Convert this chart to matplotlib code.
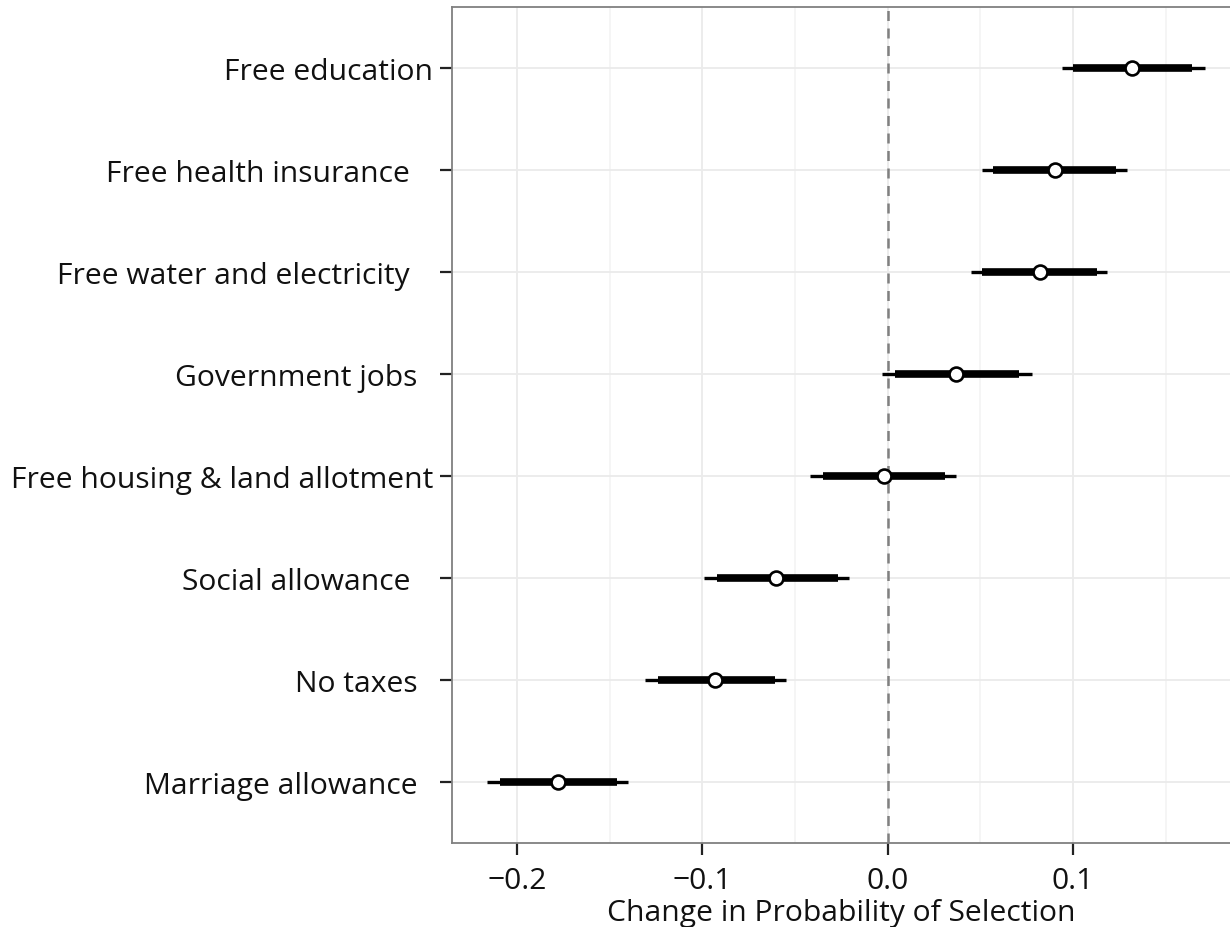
import numpy as np
import matplotlib.pyplot as plt
from matplotlib.ticker import MultipleLocator

# data, top row first
labels = ['Free education', 'Free health insurance   ', 'Free water and electricity   ',
          'Government jobs  ', 'Free housing & land allotment', 'Social allowance   ',
          'No taxes  ', 'Marriage allowance  ']
estimate = [0.132, 0.090, 0.082, 0.037, -0.002, -0.060, -0.093, -0.178]
lo95 = [0.094, 0.051, 0.045, -0.003, -0.042, -0.099, -0.131, -0.216]
hi95 = [0.171, 0.129, 0.118, 0.078, 0.037, -0.021, -0.055, -0.140]
lo90 = [0.100, 0.057, 0.051, 0.004, -0.035, -0.092, -0.124, -0.209]
hi90 = [0.164, 0.123, 0.113, 0.071, 0.031, -0.027, -0.061, -0.146]

plt.rcParams['font.family'] = ['Open Sans', 'DejaVu Sans']

fig = plt.figure(figsize=(12.3, 9.28), dpi=100)
ax = fig.add_axes([0.3675, 0.0905, 0.6325, 0.9009])

ypos = np.arange(len(labels))[::-1] + 1

ax.axvline(0, color='#808080', lw=1.8, ls=(0, (4, 3)), zorder=1)
ax.hlines(ypos, lo95, hi95, color='black', lw=2.4, zorder=2)
ax.hlines(ypos, lo90, hi90, color='black', lw=5.5, zorder=3)
ax.plot(estimate, ypos, 'o', ms=10, mfc='white', mec='black', mew=1.9, zorder=4)

ax.set_xlim(-0.235, 0.1846)
ax.set_ylim(0.4, 8.6)
ax.set_yticks(ypos)
ax.set_yticklabels(labels)
ax.xaxis.set_minor_locator(MultipleLocator(0.05))
ticks = [-0.2, -0.1, 0.0, 0.1]
ax.set_xticks(ticks)
ax.set_xticklabels(['\u22120.2', '\u22120.1', '0.0', '0.1'])

ax.grid(which='major', color='#ebebeb', lw=1.3, zorder=0)
ax.grid(which='minor', axis='x', color='#f5f5f5', lw=1.3, zorder=0)
ax.set_axisbelow(True)

ax.tick_params(axis='both', which='major', length=8.5, width=1.6, color='#222222',
               labelsize=21.6, labelcolor='#111111')
ax.tick_params(axis='y', pad=5)
ax.tick_params(axis='x', pad=8)
ax.tick_params(axis='x', which='minor', length=0)
for s in ['left', 'bottom', 'top']:
    ax.spines[s].set_color('#808080')
    ax.spines[s].set_linewidth(1.3)
ax.spines['right'].set_visible(False)

ax.set_xlabel('Change in Probability of Selection', fontsize=21.6, color='#111111', labelpad=2)

fig.savefig('out.png', dpi=100)
